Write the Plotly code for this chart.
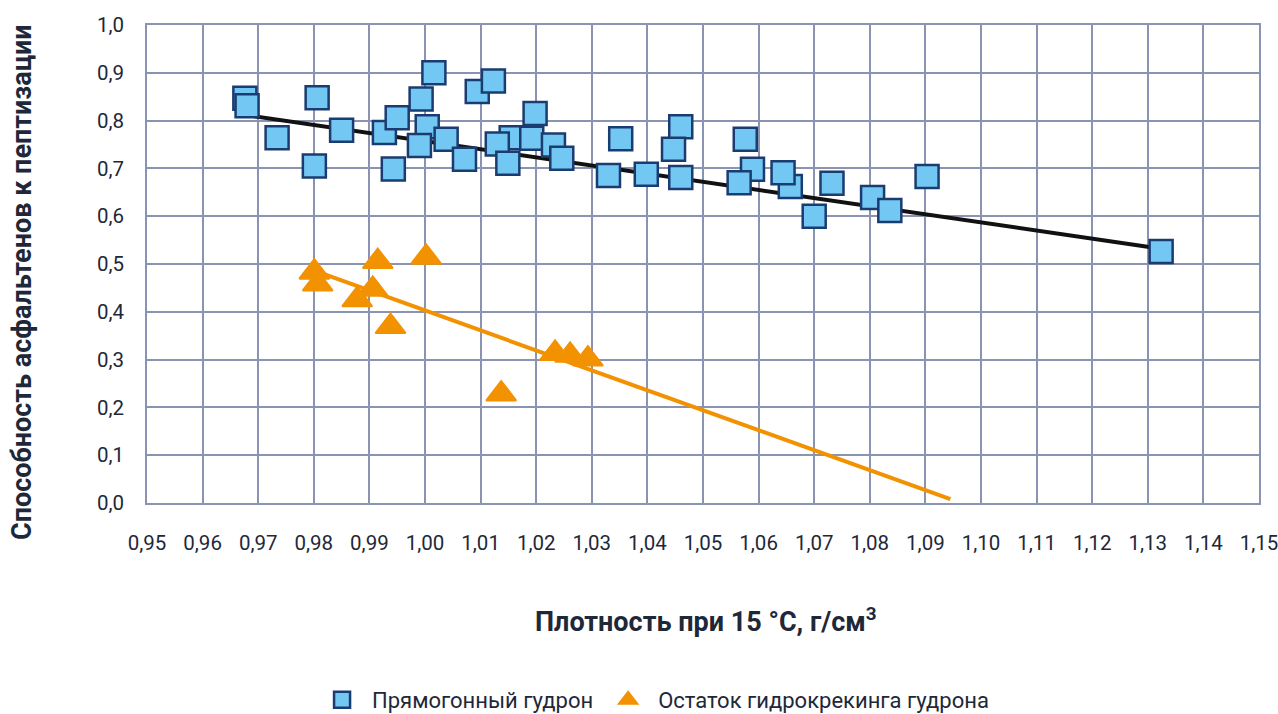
import plotly.graph_objects as go

# Прямогонный гудрон
sq_x = [0.9676, 0.9680, 0.9806, 0.9734, 0.9850, 0.9801, 0.9927, 0.9943, 0.9950, 0.9993,
        1.0016, 1.0004, 0.9990, 1.0038, 1.0071, 1.0094, 1.0123, 1.0155, 1.0130, 1.0149,
        1.0198, 1.0192, 1.0231, 1.0246, 1.0352, 1.0330, 1.0398, 1.0460, 1.0447, 1.0460,
        1.0576, 1.0589, 1.0565, 1.0657, 1.0644, 1.0732, 1.0700, 1.0805, 1.0836, 1.0903,
        1.1324]
sq_y = [0.847, 0.831, 0.848, 0.764, 0.780, 0.705, 0.775, 0.699, 0.806, 0.845,
        0.900, 0.787, 0.748, 0.761, 0.719, 0.861, 0.883, 0.764, 0.751, 0.711,
        0.815, 0.763, 0.749, 0.721, 0.762, 0.685, 0.688, 0.787, 0.740, 0.681,
        0.761, 0.698, 0.670, 0.662, 0.691, 0.669, 0.600, 0.639, 0.612, 0.683,
        0.526]

# Остаток гидрокрекинга гудрона
tr_x = [0.9801, 0.9807, 0.9915, 1.0002, 0.9906, 0.9878, 0.9938, 1.0137, 1.0234, 1.0261, 1.0293]
tr_y = [0.483, 0.458, 0.505, 0.514, 0.447, 0.425, 0.369, 0.228, 0.313, 0.309, 0.301]

# linear trendlines (end points)
trend_sq_x = [0.9676, 1.1324]
trend_sq_y = [0.812, 0.532]
trend_tr_x = [0.9801, 1.0945]
trend_tr_y = [0.486, 0.008]

x_ticks = [round(0.95 + 0.01 * i, 2) for i in range(21)]
y_ticks = [round(0.1 * i, 1) for i in range(11)]

name_sq = "Прямогонный гудрон"
name_tr = "Остаток гидрокрекинга гудрона"
x_title = "Плотность при 15 °C, г/см<sup>3</sup>"
y_title = "Способность асфальтенов к пептизации"

text_color = "#1E2838"
tick_font = dict(family="Roboto, DejaVu Sans, sans-serif", size=20.5, color=text_color)
title_font = dict(family="Roboto, DejaVu Sans, sans-serif", size=27, color=text_color, weight="bold")

fig = go.Figure()
fig.add_trace(go.Scatter(x=trend_sq_x, y=trend_sq_y, mode="lines",
                         line=dict(color="#111111", width=4), showlegend=False, hoverinfo="skip"))
fig.add_trace(go.Scatter(x=trend_tr_x, y=trend_tr_y, mode="lines",
                         line=dict(color="#F39200", width=4), showlegend=False, hoverinfo="skip"))
fig.add_trace(go.Scatter(x=sq_x, y=sq_y, mode="markers", name=name_sq,
                         marker=dict(symbol="square", size=23, color="#72C8F2",
                                     line=dict(color="#1B3C70", width=2.5))))
fig.add_trace(go.Scatter(x=tr_x, y=tr_y, mode="markers", name=name_tr,
                         marker=dict(symbol="triangle-up", size=26, color="#F39200",
                                     line=dict(color="#F39200", width=2))))

grid_color = "#8A94B2"
fig.update_xaxes(range=[0.95, 1.15], tickvals=x_ticks, tickformat=".2f", automargin=False,
                 showgrid=True, gridcolor=grid_color, gridwidth=1.6, ticklabeloverflow="allow",
                 zeroline=False, showline=True, linecolor=grid_color, linewidth=1.6, mirror=True,
                 ticks="", ticklabelstandoff=21, tickfont=tick_font)
fig.update_yaxes(range=[0, 1.0], tickvals=y_ticks, tickformat=".1f", automargin=False,
                 showgrid=True, gridcolor=grid_color, gridwidth=1.6, ticklabeloverflow="allow",
                 zeroline=False, showline=True, linecolor=grid_color, linewidth=1.6, mirror=True,
                 ticks="", ticklabelstandoff=17, tickfont=tick_font)

fig.add_annotation(text=x_title, xref="paper", yref="paper", x=0.5027, y=-0.245,
                   xanchor="center", yanchor="middle", showarrow=False, font=title_font)
fig.add_annotation(text=y_title, xref="paper", yref="paper", x=-0.1124, y=0.4623,
                   xanchor="center", yanchor="middle", textangle=-90, showarrow=False, font=title_font)

fig.update_layout(
    width=1278, height=714,
    margin=dict(l=147, r=19, t=25, b=211),
    paper_bgcolor="white", plot_bgcolor="white",
    separators=", ",
    showlegend=True,
    legend=dict(orientation="h", xref="container", yref="container",
                x=0.511, xanchor="center", y=0.0196, yanchor="middle",
                font=dict(family="Roboto, DejaVu Sans, sans-serif", size=22, color=text_color),
                itemsizing="trace", itemwidth=50, traceorder="normal"),
)

fig.write_html("out.html", config={"displayModeBar": False},
               post_script="document.body.style.margin='0px';document.body.style.overflow='hidden';")
